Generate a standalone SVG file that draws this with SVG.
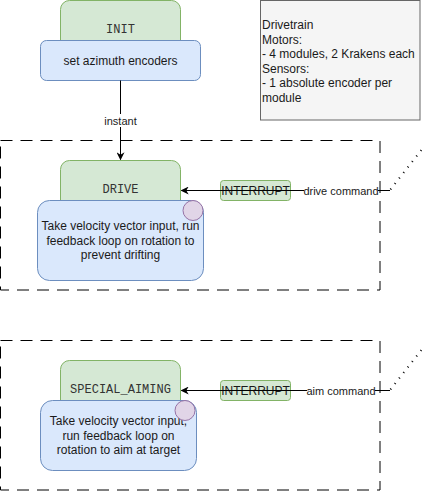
<svg xmlns="http://www.w3.org/2000/svg" width="423" height="491" viewBox="0 0 423 491">
<defs>
<style>
.g{fill:#d5e8d4;stroke:#82b366;stroke-width:1}
.b{fill:#dae8fc;stroke:#6c8ebf;stroke-width:1}
.p{fill:#e1d5e7;stroke:#9673a6;stroke-width:1}
.mono{font-family:"Liberation Mono","Courier New",monospace;font-size:12px;fill:#333}
.t{font-family:"Liberation Sans",Arial,sans-serif;font-size:12px;fill:#1a1a1a}
.l{font-family:"Liberation Sans",Arial,sans-serif;font-size:11px;fill:#1a1a1a}
.edge{stroke:#000;stroke-width:1;fill:none}
.dash{fill:none;stroke:#000;stroke-width:1;stroke-dasharray:12 8}
</style>
<marker id="arr" viewBox="0 0 10 10" refX="9" refY="5" markerWidth="8" markerHeight="8" markerUnits="userSpaceOnUse" orient="auto">
<path d="M0,0 L10,5 L0,10 L3,5 Z" fill="#000"/>
</marker>
</defs>
<rect width="423" height="491" fill="#fff"/>

<g id="group-drive">
<rect class="dash" x="0.5" y="140.5" width="379.5" height="149.5"/>
</g>
<g id="group-aim">
<rect class="dash" x="0.5" y="340.5" width="379.5" height="149.5"/>
</g>

<g id="init">
<rect class="g" x="60.5" y="0.5" width="120" height="60" rx="9" ry="9"/>
<text class="mono" x="120.5" y="33" text-anchor="middle">INIT</text>
</g>
<g id="init-action">
<rect class="b" x="40.5" y="40.5" width="160" height="40" rx="6" ry="6"/>
<text class="t" x="120.5" y="64.5" text-anchor="middle">set azimuth encoders</text>
</g>

<g id="drivetrain-note">
<rect x="260.5" y="0.5" width="159.5" height="119.5" fill="#f5f5f5" stroke="#666"/>
<text class="t" x="262" fill="#333"><tspan x="262" y="29">Drivetrain</tspan><tspan x="262" y="43.5">Motors:</tspan><tspan x="262" y="58">- 4 modules, 2 Krakens each</tspan><tspan x="262" y="72.5">Sensors:</tspan><tspan x="262" y="87">- 1 absolute encoder per</tspan><tspan x="262" y="101.5">module</tspan></text>
</g>

<g id="drive">
<rect class="g" x="60.5" y="160.5" width="120" height="60" rx="9" ry="9"/>
<text class="mono" x="120.5" y="193" text-anchor="middle">DRIVE</text>
</g>
<g id="drive-action">
<rect class="b" x="37.5" y="200.5" width="166" height="80" rx="12" ry="12"/>
<text class="t" text-anchor="middle"><tspan x="120.5" y="230">Take velocity vector input, run</tspan><tspan x="120.5" y="244.5">feedback loop on rotation to</tspan><tspan x="120.5" y="259">prevent drifting</tspan></text>
<circle class="p" cx="193" cy="210.5" r="10"/>
</g>

<g id="drive-interrupt">
<rect class="g" x="220.5" y="180.5" width="70" height="20" rx="3" ry="3"/>
<text class="t" x="255.5" y="195" text-anchor="middle" font-size="12">INTERRUPT</text>
</g>

<g id="aim">
<rect class="g" x="60.5" y="360.5" width="120" height="60" rx="9" ry="9"/>
<text class="mono" x="120.5" y="393" text-anchor="middle">SPECIAL_AIMING</text>
</g>
<g id="aim-action">
<rect class="b" x="40.5" y="400.5" width="156" height="70" rx="12" ry="12"/>
<text class="t" text-anchor="middle"><tspan x="118.5" y="425">Take velocity vector input,</tspan><tspan x="118.5" y="439.5">run feedback loop on</tspan><tspan x="118.5" y="454">rotation to aim at target</tspan></text>
<circle class="p" cx="185" cy="410.5" r="10"/>
</g>

<g id="aim-interrupt">
<rect class="g" x="220.5" y="380.5" width="70" height="20" rx="3" ry="3"/>
<text class="t" x="255.5" y="395" text-anchor="middle">INTERRUPT</text>
</g>

<g id="connectors">
<line class="edge" x1="120.5" y1="80.5" x2="120.5" y2="159.5" marker-end="url(#arr)"/>
<rect x="103" y="114" width="35" height="13" fill="#fff"/>
<text class="l" x="120.5" y="124.5" text-anchor="middle">instant</text>

<line class="edge" x1="390" y1="190.5" x2="181.5" y2="190.5" marker-end="url(#arr)"/>
<rect x="304" y="184" width="74" height="13" fill="#fff"/>
<text class="l" x="341" y="194.5" text-anchor="middle">drive command</text>
<line x1="390.5" y1="189.5" x2="423" y2="148" stroke="#000" stroke-width="2" stroke-dasharray="1 6"/>

<line class="edge" x1="390" y1="390.5" x2="181.5" y2="390.5" marker-end="url(#arr)"/>
<rect x="307" y="384" width="68" height="13" fill="#fff"/>
<text class="l" x="341" y="394.5" text-anchor="middle">aim command</text>
<line x1="390.5" y1="389.5" x2="423" y2="348" stroke="#000" stroke-width="2" stroke-dasharray="1 6"/>
</g>
</svg>
